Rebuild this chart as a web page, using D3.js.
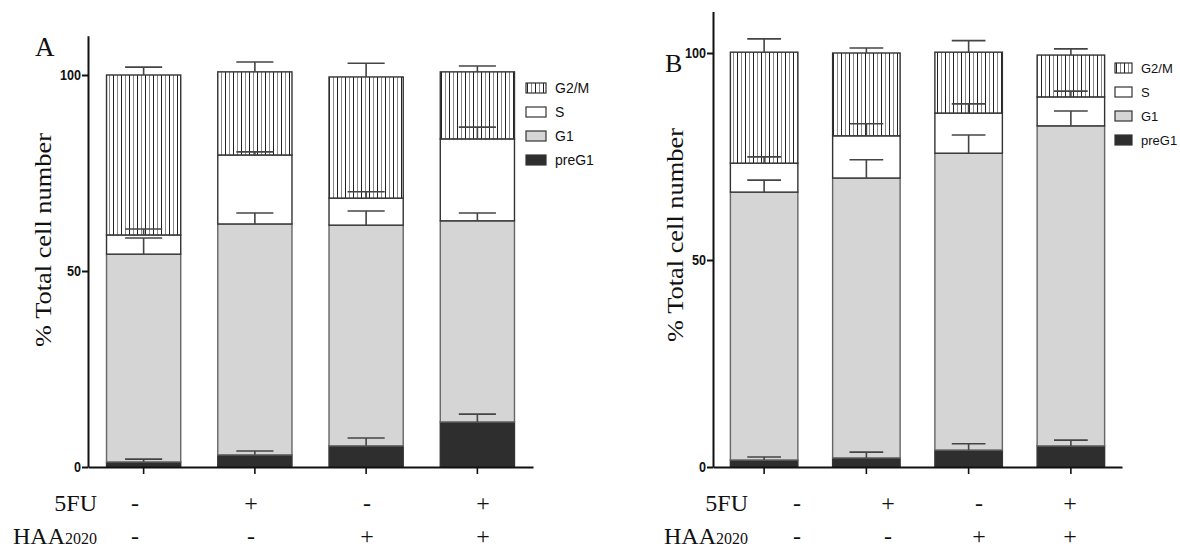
<!DOCTYPE html>
<html>
<head>
<meta charset="utf-8">
<script src="https://cdn.jsdelivr.net/npm/d3@7"></script>
<style>
    body { margin: 0; background: #fff; }
    .serif { font-family: "Liberation Serif", "Times New Roman", serif; fill: #111; }
    .legend-text { font-family: "Liberation Sans", Arial, sans-serif; fill: #111; }
</style>
</head>
<body>
<svg id="chart" width="1180" height="550"></svg>
<script>
// Categories and labels
var groups = ['Control', '5FU', 'HAA2020', '5FU + HAA2020'];
var phases = ['preG1', 'G1', 'S', 'G2/M'];
var legendOrder = ['G2/M', 'S', 'G1', 'preG1'];
var fuSigns = ['-', '+', '-', '+'];
var haaSigns = ['-', '-', '+', '+'];
var yTicks = [0, 50, 100];

// Panel A: mean % per phase, and error (SEM)
var preG1A = [1.3, 3.1, 5.4, 11.5];
var g1A = [53.0, 58.9, 56.3, 51.3];
var sA = [4.9, 17.6, 6.9, 20.9];
var g2mA = [40.8, 21.2, 30.9, 17.1];
var preG1ErrA = [0.7, 1.0, 2.0, 2.0];
var g1ErrA = [4.1, 2.8, 3.6, 2.0];
var sErrA = [1.5, 0.8, 1.6, 3.0];
var g2mErrA = [2.0, 2.5, 3.5, 1.5];

// Panel B
var preG1B = [1.7, 2.2, 4.1, 5.1];
var g1B = [64.7, 67.6, 71.7, 77.3];
var sB = [7.0, 10.2, 9.7, 7.0];
var g2mB = [26.8, 20.0, 14.7, 10.1];
var preG1ErrB = [0.7, 1.4, 1.5, 1.4];
var g1ErrB = [2.9, 4.4, 4.4, 3.6];
var sErrB = [1.5, 2.9, 2.2, 1.4];
var g2mErrB = [3.2, 1.2, 2.8, 1.5];

var svg = d3.select('#chart');

// vertical hatching for G2/M
var pat = svg.append('defs').append('pattern')
    .attr('id', 'hatch')
    .attr('patternUnits', 'userSpaceOnUse')
    .attr('width', 8)
    .attr('height', 8);
pat.append('rect').attr('width', 8).attr('height', 8).attr('fill', '#fff');
pat.append('line').attr('x1', 1.5).attr('x2', 1.5).attr('y1', 0).attr('y2', 8)
    .attr('stroke', '#222').attr('stroke-width', 1);
pat.append('line').attr('x1', 5.5).attr('x2', 5.5).attr('y1', 0).attr('y2', 8)
    .attr('stroke', '#888').attr('stroke-width', 1);

var fills = { 'preG1': '#2e2e2e', 'G1': '#d5d5d5', 'S': '#ffffff', 'G2/M': 'url(#hatch)' };

var panels = [
    { letter: 'A', lx: 35, ly: 56, letterSize: 27,
      left: 88, right: 533, padIn: 0.333, zero: 467, y100: 75,
      means: [preG1A, g1A, sA, g2mA], errs: [preG1ErrA, g1ErrA, sErrA, g2mErrA],
      labelX: 43, labelY: 240,
      legX: 526, legY: 88, swW: 20, legFont: 14,
      signX: [135, 483], rowLabelX: 97 },
    { letter: 'B', lx: 665, ly: 72, letterSize: 26,
      left: 713, right: 1122, padIn: 0.34, zero: 467, y100: 53,
      means: [preG1B, g1B, sB, g2mB], errs: [preG1ErrB, g1ErrB, sErrB, g2mErrB],
      labelX: 675, labelY: 235,
      legX: 1115, legY: 68, swW: 17, legFont: 13,
      signX: [797, 1070], rowLabelX: 748 }
];

panels.forEach(drawPanel);

function drawPanel(p) {
    var g = svg.append('g');

    // build rows for the stack
    var rows = groups.map(function(name, i) {
        var r = { group: name };
        phases.forEach(function(ph, j) {
            r[ph] = p.means[j][i];
            r[ph + '_err'] = p.errs[j][i];
        });
        return r;
    });
    var stacked = d3.stack().keys(phases)(rows);

    var xScale = d3.scaleBand()
        .domain(groups)
        .range([p.left, p.right])
        .paddingInner(p.padIn)
        .paddingOuter(p.padIn / 2);

    var yMax = 110;
    var yScale = d3.scaleLinear()
        .domain([0, yMax])
        .range([p.zero, p.zero - (p.zero - p.y100) * yMax / 100]);

    // bars
    stacked.forEach(function(layer) {
        g.append('g').selectAll('rect')
            .data(layer)
            .enter()
            .append('rect')
            .attr('x', d => xScale(d.data.group))
            .attr('y', d => yScale(d[1]))
            .attr('width', xScale.bandwidth())
            .attr('height', d => yScale(d[0]) - yScale(d[1]))
            .attr('fill', fills[layer.key])
            .attr('stroke', layer.key === 'G1' ? '#666' : '#333')
            .attr('stroke-width', 1.4);
    });

    // error bars (upper only)
    var capHalf = xScale.bandwidth() / 4;
    stacked.forEach(function(layer) {
        var eb = g.append('g').selectAll('g')
            .data(layer)
            .enter()
            .append('g')
            .attr('stroke', '#444')
            .attr('stroke-width', 1.6);
        eb.append('line')
            .attr('x1', d => xScale(d.data.group) + xScale.bandwidth() / 2)
            .attr('x2', d => xScale(d.data.group) + xScale.bandwidth() / 2)
            .attr('y1', d => yScale(d[1]))
            .attr('y2', d => yScale(d[1] + d.data[layer.key + '_err']));
        eb.append('line')
            .attr('x1', d => xScale(d.data.group) + xScale.bandwidth() / 2 - capHalf)
            .attr('x2', d => xScale(d.data.group) + xScale.bandwidth() / 2 + capHalf)
            .attr('y1', d => yScale(d[1] + d.data[layer.key + '_err']))
            .attr('y2', d => yScale(d[1] + d.data[layer.key + '_err']));
    });

    // axes
    var yAxis = d3.axisLeft(yScale).tickValues(yTicks).tickSize(6).tickSizeOuter(0).tickPadding(1);
    var ya = g.append('g')
        .attr('transform', 'translate(' + p.left + ',0)')
        .call(yAxis);
    ya.select('.domain').attr('stroke', '#111').attr('stroke-width', 2);
    ya.selectAll('.tick line').attr('stroke', '#111').attr('stroke-width', 2);
    // condensed bold tick numbers
    ya.selectAll('.tick text')
        .style('font-family', '"Liberation Sans", Arial, sans-serif')
        .style('font-weight', 'bold')
        .style('font-size', '15px')
        .style('fill', '#111')
        .attr('textLength', d => String(d).length * 7)
        .attr('lengthAdjust', 'spacingAndGlyphs');

    var xAxis = d3.axisBottom(xScale).tickFormat('').tickSize(7).tickSizeOuter(0);
    var xa = g.append('g')
        .attr('transform', 'translate(0,' + p.zero + ')')
        .call(xAxis);
    xa.select('.domain').attr('stroke', '#111').attr('stroke-width', 2);
    xa.selectAll('.tick line').attr('stroke', '#111').attr('stroke-width', 1.6);

    // panel letter
    g.append('text')
        .attr('class', 'serif')
        .attr('x', p.lx)
        .attr('y', p.ly)
        .style('font-size', p.letterSize + 'px')
        .text(p.letter);

    // y label
    g.append('text')
        .attr('class', 'serif')
        .attr('transform', 'translate(' + (p.labelX + 8) + ',' + p.labelY + ') rotate(-90)')
        .attr('text-anchor', 'middle')
        .attr('textLength', 214)
        .attr('lengthAdjust', 'spacingAndGlyphs')
        .style('font-size', '23px')
        .text('% Total cell number');

    // legend
    var leg = g.append('g').selectAll('g')
        .data(legendOrder)
        .enter()
        .append('g')
        .attr('transform', (d, i) => 'translate(' + p.legX + ',' + (p.legY + i * 24) + ')');
    leg.append('rect')
        .attr('x', 0)
        .attr('y', -5)
        .attr('width', p.swW)
        .attr('height', 10)
        .attr('fill', d => fills[d])
        .attr('stroke', '#333')
        .attr('stroke-width', 1.2);
    leg.append('text')
        .attr('class', 'legend-text')
        .attr('x', p.swW + 9)
        .attr('y', 5)
        .style('font-size', p.legFont + 'px')
        .text(d => d);

    // treatment table under the axis
    var signScale = d3.scalePoint().domain(groups).range(p.signX);
    var row1 = 511, row2 = 544;
    g.append('text')
        .attr('class', 'serif')
        .attr('x', p.rowLabelX)
        .attr('y', row1)
        .attr('text-anchor', 'end')
        .style('font-size', '24px')
        .text('5FU');
    var haa = g.append('text')
        .attr('class', 'serif')
        .attr('x', p.rowLabelX)
        .attr('y', row2)
        .attr('text-anchor', 'end')
        .style('font-size', '24px');
    haa.append('tspan').text('HAA');
    haa.append('tspan').style('font-size', '16px').text('2020');

    g.append('g').selectAll('text')
        .data(groups)
        .enter()
        .append('text')
        .attr('class', 'serif')
        .attr('x', d => signScale(d))
        .attr('y', row1)
        .attr('text-anchor', 'middle')
        .style('font-size', '24px')
        .text((d, i) => fuSigns[i]);
    g.append('g').selectAll('text')
        .data(groups)
        .enter()
        .append('text')
        .attr('class', 'serif')
        .attr('x', d => signScale(d))
        .attr('y', row2)
        .attr('text-anchor', 'middle')
        .style('font-size', '24px')
        .text((d, i) => haaSigns[i]);
}
</script>
</body>
</html>
